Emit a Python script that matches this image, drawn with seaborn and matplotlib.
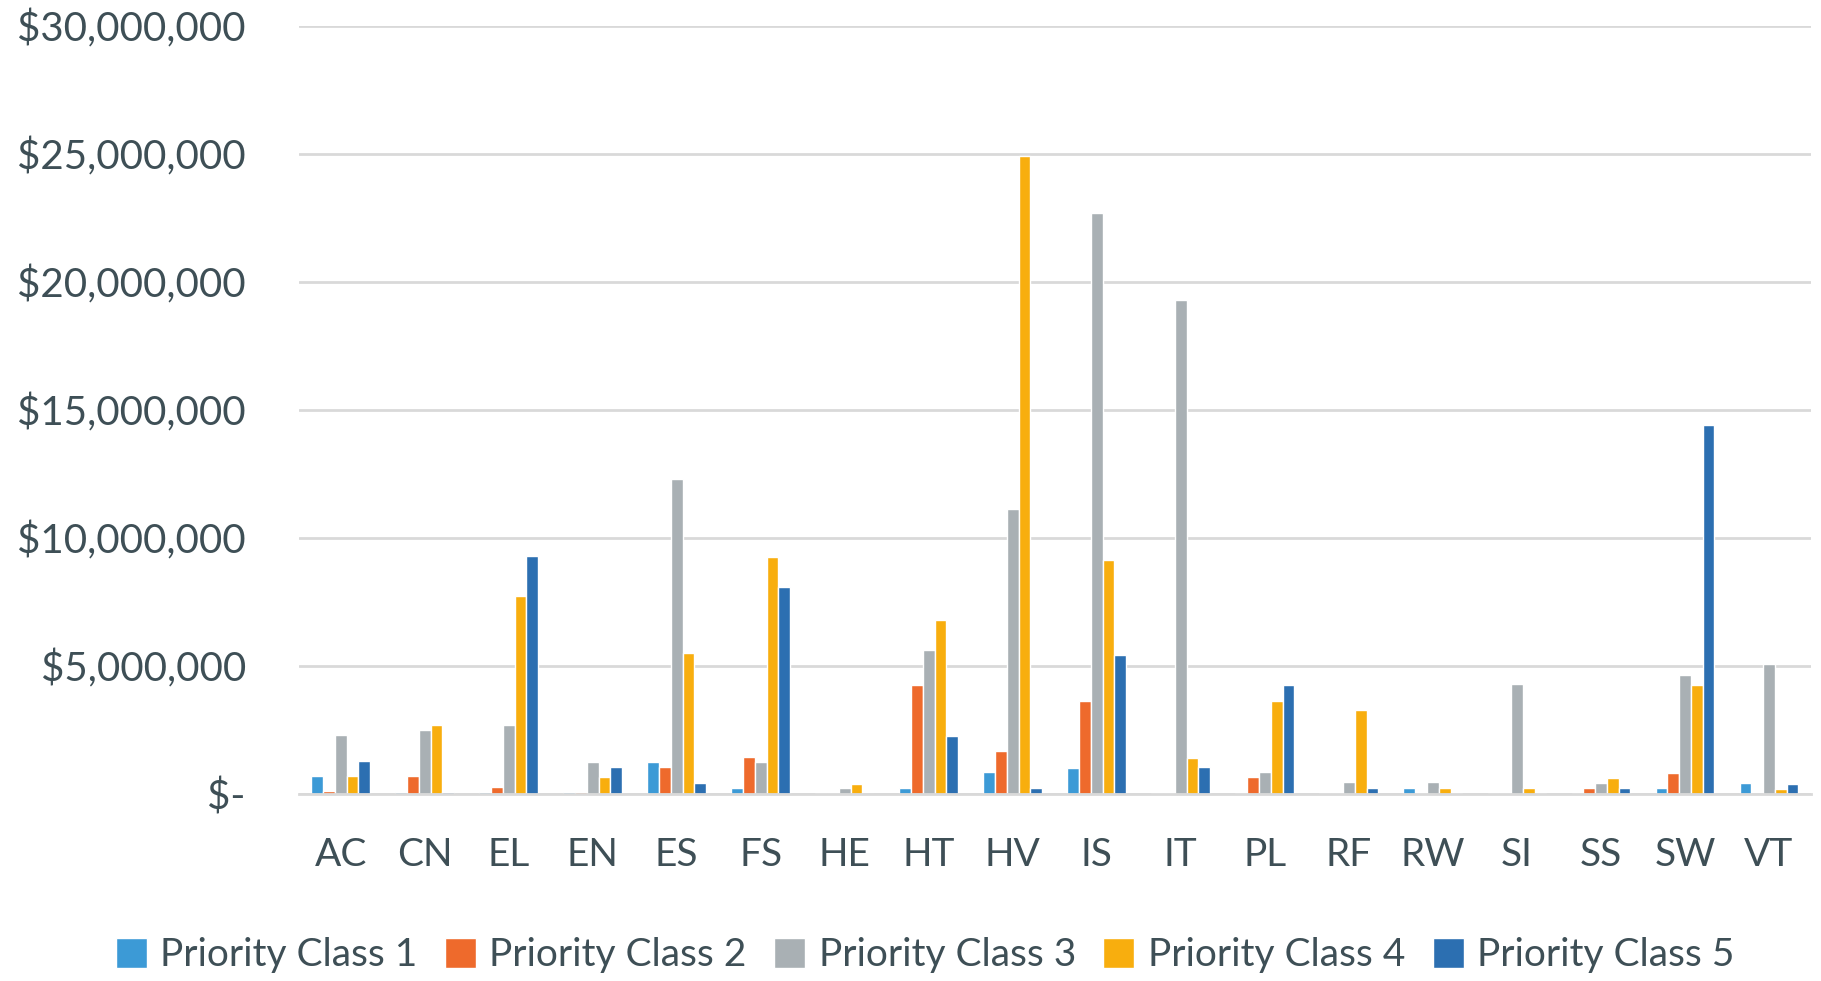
import matplotlib
matplotlib.use("Agg")
import matplotlib.pyplot as plt
import matplotlib.ticker as mticker
import seaborn as sns
import pandas as pd

# Funding by category and priority class (US dollars, millions)
categories = ["AC", "CN", "EL", "EN", "ES", "FS", "HE", "HT", "HV",
              "IS", "IT", "PL", "RF", "RW", "SI", "SS", "SW", "VT"]
priority_1 = [0.70, 0.08, 0.07, 0.07, 1.24, 0.22, 0.03, 0.25, 0.86,
              1.03, 0.05, 0.05, 0.04, 0.24, 0.03, 0.03, 0.22, 0.42]
priority_2 = [0.10, 0.70, 0.28, 0.07, 1.06, 1.44, 0.03, 4.27, 1.66,
              3.64, 0.05, 0.65, 0.04, 0.04, 0.03, 0.22, 0.82, 0.02]
priority_3 = [2.31, 2.51, 2.70, 1.26, 12.29, 1.24, 0.22, 5.64, 11.14,
              22.70, 19.30, 0.85, 0.45, 0.45, 4.30, 0.42, 4.65, 5.07]
priority_4 = [0.70, 2.71, 7.72, 0.66, 5.49, 9.27, 0.41, 6.81, 24.92,
              9.15, 1.42, 3.65, 3.29, 0.24, 0.24, 0.62, 4.27, 0.21]
priority_5 = [1.28, 0.07, 9.30, 1.04, 0.44, 8.08, 0.02, 2.25, 0.25,
              5.42, 1.04, 4.25, 0.25, 0.04, 0.03, 0.22, 14.40, 0.41]
series_names = ["Priority Class 1", "Priority Class 2", "Priority Class 3",
                "Priority Class 4", "Priority Class 5"]
colors = ["#3c9ad6", "#ee6a2c", "#a9b0b4", "#f8ae0e", "#2c6fb1"]

rows = []
for name, vals in zip(series_names,
                      [priority_1, priority_2, priority_3, priority_4, priority_5]):
    for cat, v in zip(categories, vals):
        rows.append({"Category": cat, "Class": name, "Amount": v * 1e6})
df = pd.DataFrame(rows)

sns.set_theme(style="white")
plt.rcParams["font.family"] = ["Lato", "DejaVu Sans"]
text_color = "#3e4f56"

fig = plt.figure(figsize=(18.21, 9.81), dpi=100)
ax = fig.add_axes([0.164, 0.1906, 0.8305, 0.7834])

sns.barplot(data=df, x="Category", y="Amount", hue="Class",
            order=categories, hue_order=series_names,
            palette=colors, width=0.7, saturation=1.0, ax=ax, legend=True)

ax.set_ylim(0, 30e6)
ax.set_xlim(-0.5, len(categories) - 0.5)
ax.yaxis.set_major_locator(mticker.MultipleLocator(5e6))


def money(v, _):
    return "$-" if v == 0 else "${:,.0f}".format(v)


ax.yaxis.set_major_formatter(mticker.FuncFormatter(money))
ax.grid(axis="y", color="#d9d9d9", linewidth=2)
ax.set_axisbelow(True)
for side in ["top", "right", "left"]:
    ax.spines[side].set_visible(False)
ax.spines["bottom"].set_color("#d9d9d9")
ax.spines["bottom"].set_linewidth(2)
ax.tick_params(axis="y", length=0, pad=38, labelsize=29, labelcolor=text_color)
ax.tick_params(axis="x", length=0, pad=31, labelsize=28, labelcolor=text_color)
ax.set_xlabel("")
ax.set_ylabel("")

handles, labels = ax.get_legend_handles_labels()
ax.get_legend().remove()
fig.legend(handles, labels, loc="center", bbox_to_anchor=(0.508, 0.026),
           ncol=5, frameon=False, fontsize=28, labelcolor=text_color,
           handlelength=0.8, handleheight=0.8, handletextpad=0.35,
           columnspacing=0.7, borderaxespad=0)

fig.savefig("out.png", dpi=100, facecolor="white")
